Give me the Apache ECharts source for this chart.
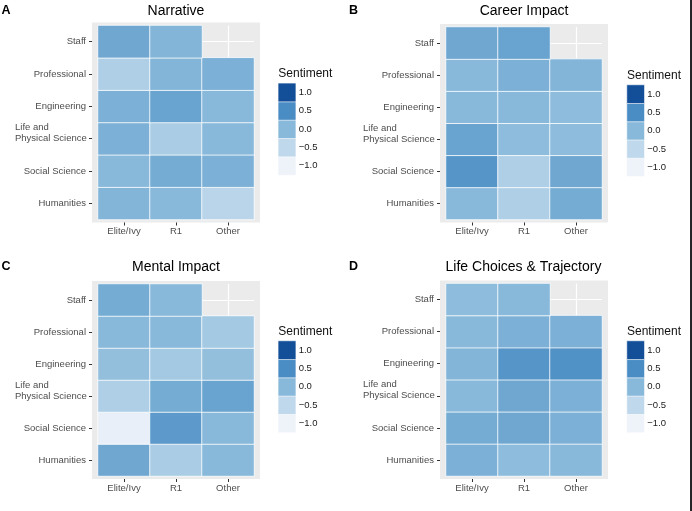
<!DOCTYPE html>
<html><head><meta charset="utf-8">
<script src="https://cdn.jsdelivr.net/npm/echarts@6/dist/echarts.min.js"></script>
<style>html,body{margin:0;padding:0;background:#fff}#c{width:692px;height:511px}</style>
</head><body><div id="c"></div>
<script>
// ---- data ----
const institutions = ['Elite/Ivy', 'R1', 'Other'];
const fields = ['Humanities', 'Social Science', 'Life and Physical Science', 'Engineering', 'Professional', 'Staff'];
const panelTitles = ['Narrative', 'Career Impact', 'Mental Impact', 'Life Choices & Trajectory'];
const panelLetters = ['A', 'B', 'C', 'D'];
// rows follow `fields` (bottom to top), columns follow `institutions`; null = no data
const narrative = [
  [0.05, 0.0, -0.45],
  [0.0, 0.15, 0.1],
  [0.1, -0.3, 0.0],
  [0.1, 0.25, 0.0],
  [-0.35, 0.05, 0.1],
  [0.2, 0.05, null]
];
const careerImpact = [
  [0.0, -0.35, 0.15],
  [0.4, -0.35, 0.2],
  [0.25, -0.05, -0.05],
  [0.0, 0.0, -0.05],
  [0.0, 0.1, 0.05],
  [0.2, 0.25, null]
];
const mentalImpact = [
  [0.2, -0.3, 0.0],
  [-0.95, 0.35, 0.0],
  [-0.35, 0.15, 0.25],
  [-0.1, -0.25, -0.1],
  [0.0, 0.0, -0.25],
  [0.15, 0.0, null]
];
const lifeChoices = [
  [0.1, -0.05, 0.0],
  [0.15, 0.2, 0.1],
  [0.0, 0.2, 0.1],
  [0.05, 0.4, 0.45],
  [0.0, 0.1, 0.1],
  [-0.05, 0.0, null]
];
const panelData = [narrative, careerImpact, mentalImpact, lifeChoices];
const legendTitle = 'Sentiment';
const legendValues = [-1, -0.5, 0, 0.5, 1];
const legendLabels = ['\u22121.0', '\u22120.5', '0.0', '0.5', '1.0'];
const scaleColors = ['#eef2f9', '#c0d8eb', '#88b9da', '#4a8cc4', '#124f98'];

// ---- layout ----
const FONT = '"Liberation Sans", Arial, Helvetica, sans-serif';
const layouts = [
  {tile: [98, 25.5, 254, 219.5], key: [278.3, 83.3, 295.7, 175], title: [176, 11], letter: [1.5, 11], legTitleY: 74},
  {tile: [446, 27, 602, 219.5], key: [627, 85, 644.3, 176.3], title: [524, 11], letter: [349, 11], legTitleY: 76},
  {tile: [98, 284, 254, 476], key: [278.3, 341, 295.7, 432.5], title: [176, 267], letter: [1.5, 267], legTitleY: 332},
  {tile: [446, 283.5, 602, 476], key: [627, 341, 644.3, 432.5], title: [523.5, 267], letter: [349, 267], legTitleY: 332}
];

const grid = [], xAxis = [], yAxis = [], series = [], graphic = [];
layouts.forEach((L, p) => {
  const [x0, y0, x1, y1] = L.tile;
  // background panel
  grid.push({left: x0 - 6, top: y0 - 3, width: x1 - x0 + 12, height: y1 - y0 + 6,
    show: true, backgroundColor: '#ebebeb', borderWidth: 0});
  xAxis.push({gridIndex: 3 * p, type: 'value', show: false, min: 0, max: 1});
  yAxis.push({gridIndex: 3 * p, type: 'value', show: false, min: 0, max: 1});
  // tiles
  grid.push({left: x0, top: y0, width: x1 - x0, height: y1 - y0, show: false});
  xAxis.push({
    gridIndex: 3 * p + 1, type: 'category', data: institutions, offset: 3,
    axisLine: {show: false},
    axisTick: {show: true, length: 3, alignWithLabel: true, interval: 0, lineStyle: {color: '#333', width: 1}},
    axisLabel: {margin: 4, fontSize: 9.5, color: '#4d4d4d', fontFamily: FONT, interval: 0},
    splitLine: {show: true, alignWithLabel: true, interval: 0, lineStyle: {color: '#ffffff', width: 1.2}}
  });
  yAxis.push({
    gridIndex: 3 * p + 1, type: 'category', data: fields, offset: 6,
    axisLine: {show: false},
    axisTick: {show: true, length: 3, alignWithLabel: true, interval: 0, lineStyle: {color: '#333', width: 1}},
    axisLabel: {
      margin: 6, fontSize: 9.5, color: '#4d4d4d', fontFamily: FONT, interval: 0, lineHeight: 11,
      formatter: v => v === 'Life and Physical Science' ? '{a|Life and}\n{a|Physical Science}\n{b| }' : v,
      rich: {
        a: {width: 71, align: 'left', fontSize: 9.5, lineHeight: 11, color: '#4d4d4d', fontFamily: FONT},
        b: {fontSize: 9.5, lineHeight: 11}
      }
    },
    splitLine: {show: true, alignWithLabel: true, interval: 0, lineStyle: {color: '#ffffff', width: 1.2}}
  });
  const data = [];
  panelData[p].forEach((row, r) => row.forEach((v, c) => { if (v !== null) data.push([c, r, v]); }));
  series.push({
    type: 'heatmap', xAxisIndex: 3 * p + 1, yAxisIndex: 3 * p + 1, data: data,
    itemStyle: {borderColor: '#ffffff', borderWidth: 0.8},
    emphasis: {disabled: true}, silent: true
  });
  // legend keys
  const [k0, k1, k2, k3] = L.key;
  grid.push({left: k0, top: k1, width: k2 - k0, height: k3 - k1, show: false});
  xAxis.push({gridIndex: 3 * p + 2, type: 'category', data: ['key'], show: false});
  yAxis.push({
    gridIndex: 3 * p + 2, type: 'category', data: legendLabels, position: 'right',
    axisLine: {show: false}, axisTick: {show: false}, splitLine: {show: false},
    axisLabel: {margin: 3, fontSize: 9.5, color: '#1a1a1a', fontFamily: FONT, interval: 0}
  });
  series.push({
    type: 'heatmap', xAxisIndex: 3 * p + 2, yAxisIndex: 3 * p + 2,
    data: legendValues.map((v, i) => [0, i, v]),
    itemStyle: {borderColor: '#ffffff', borderWidth: 0.6},
    emphasis: {disabled: true}, silent: true
  });
  graphic.push({type: 'text', x: L.title[0], y: L.title[1], silent: true,
    style: {text: panelTitles[p], fontSize: 14, fill: '#000', fontFamily: FONT, textAlign: 'center', textVerticalAlign: 'middle'}});
  graphic.push({type: 'text', x: L.letter[0], y: L.letter[1], silent: true,
    style: {text: panelLetters[p], fontSize: 12.5, fontWeight: 'bold', fill: '#000', fontFamily: FONT, textAlign: 'left', textVerticalAlign: 'middle'}});
  graphic.push({type: 'text', x: k0, y: L.legTitleY, silent: true,
    style: {text: legendTitle, fontSize: 12, fill: '#111', fontFamily: FONT, textAlign: 'left', textVerticalAlign: 'middle'}});
});
graphic.push({type: 'rect', shape: {x: 690, y: 0, width: 2, height: 511}, style: {fill: '#262626'}, silent: true});

const chart = echarts.init(document.getElementById('c'), null, {renderer: 'canvas'});
chart.setOption({
  animation: false,
  backgroundColor: '#ffffff',
  textStyle: {fontFamily: FONT},
  grid, xAxis, yAxis, series, graphic,
  visualMap: {type: 'continuous', show: false, min: -1, max: 1, dimension: 2, inRange: {color: scaleColors}}
});
</script></body></html>
